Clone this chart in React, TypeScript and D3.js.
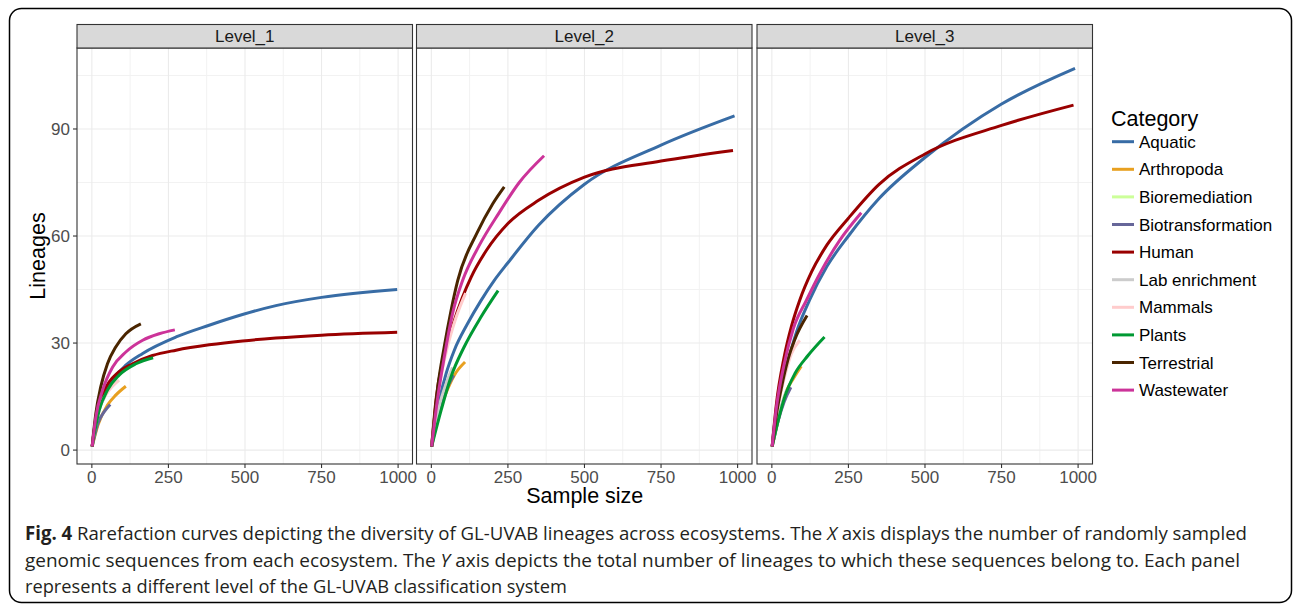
import React from 'react';
import * as d3 from 'd3';

type Pt = [number, number];

const categories = ['Aquatic', 'Arthropoda', 'Bioremediation', 'Biotransformation', 'Human', 'Lab enrichment', 'Mammals', 'Plants', 'Terrestrial', 'Wastewater'];
const colors = ['#386CA5', '#E8A020', '#CCFF99', '#666699', '#990000', '#CCCCCC', '#FFCCCC', '#009933', '#4A2500', '#CC3399'];
const levels = ['Level_1', 'Level_2', 'Level_3'];
const xTicks = [0, 250, 500, 750, 1000];
const xMinor = [125, 375, 625, 875];
const yTicks = [0, 30, 60, 90];
const yMinor = [15, 45, 75, 105];

// curves per category, same order as categories
const level1: Pt[][] = [
  [[1, 1], [13, 8.4], [35, 14], [68, 19.6], [111, 23.8], [166, 27.1], [275, 31.7], [383, 35], [492, 38], [601, 40.5], [750, 42.8], [997, 45]],
  [[1, 1], [20, 7], [51, 12.6], [78, 15.4], [111, 17.9]],
  [[1, 1], [10, 6], [22, 9.5]],
  [[1, 1], [20, 7.5], [40, 10.7], [60, 12.8]],
  [[1, 1], [15, 10], [40, 16.5], [88, 21.9], [133, 24.2], [198, 26.5], [275, 28], [383, 29.5], [492, 30.6], [601, 31.4], [750, 32.2], [997, 33]],
  [[1, 1], [20, 10], [45, 15.5]],
  [[1, 1], [20, 11], [50, 16], [89, 19.6]],
  [[1, 1], [24, 11.2], [51, 16.8], [89, 21], [144, 24.2], [200, 25.9]],
  [[1, 1], [13, 10.3], [29, 17.7], [51, 24.2], [78, 28.9], [111, 32.6], [160, 35.4]],
  [[1, 1], [13, 9.3], [35, 16.8], [68, 23.3], [111, 27.5], [166, 30.8], [220, 32.6], [271, 33.7]],
];

const level2: Pt[][] = [
  [[1, 1], [10, 7.5], [26, 14], [48, 21.4], [75, 28], [118, 35.4], [162, 41.9], [205, 47.5], [250, 52.5], [350, 63], [500, 74.5], [750, 85.5], [990, 93.7]],
  [[1, 1], [20, 9], [48, 16], [75, 21], [110, 24.7]],
  [[1, 1], [10, 6], [25, 11]],
  [[1, 1], [26, 11.2], [48, 16.8], [73, 21]],
  [[1, 1], [15, 14], [40, 26], [70, 35], [100, 42.5], [130, 48.5], [180, 56], [250, 63.5], [350, 70], [500, 76.5], [750, 81], [985, 84]],
  [[1, 1], [25, 12], [50, 19], [69, 23.2]],
  [[1, 1], [20, 15], [50, 28], [80, 37], [112, 44]],
  [[1, 1], [32, 11.2], [64, 20.5], [107, 28.9], [162, 37.3], [218, 44.7]],
  [[1, 1], [21, 17.7], [42, 28.9], [64, 39], [86, 47.5], [150, 61], [200, 69], [238, 73.8]],
  [[1, 1], [21, 14.9], [42, 26], [69, 38.2], [102, 47.5], [156, 57.3], [221, 66.5], [287, 75], [368, 82.5]],
];

const level3: Pt[][] = [
  [[1, 1], [10, 8], [25, 15], [50, 24], [80, 33], [123, 42], [180, 51.5], [250, 60], [350, 70.5], [500, 82], [750, 97], [990, 107]],
  [[1, 1], [25, 10], [50, 17], [70, 20], [96, 23.5]],
  [[1, 1], [10, 5], [20, 8]],
  [[1, 1], [20, 8], [40, 13.5], [62, 17.6]],
  [[1, 1], [15, 13], [40, 26], [65, 35], [91, 42], [130, 50], [180, 57.5], [250, 65], [350, 74.5], [500, 83], [750, 91], [985, 96.7]],
  [[1, 1], [20, 9], [48, 16.8]],
  [[1, 1], [20, 12], [40, 20], [64, 27], [91, 30.8]],
  [[1, 1], [21, 8.4], [42, 14.9], [75, 21.4], [118, 26.5], [172, 31.7]],
  [[1, 1], [15, 10], [30, 17], [53, 25.5], [75, 31], [115, 37.7]],
  [[1, 1], [15, 12], [40, 24], [70, 34], [113, 42], [160, 50], [221, 58.7], [292, 66.5]],
];

const levelData = [level1, level2, level3];

const captionLines = [
  'Rarefaction curves depicting the diversity of GL-UVAB lineages across ecosystems. The ',
  'genomic sequences from each ecosystem. The ',
  'represents a different level of the GL-UVAB classification system',
];

const panelLefts = [77, 416.5, 757];
const panelW = 335.5;
const panelTop = 48;
const panelBottom = 464;
const stripTop = 24.5;
const font = '"Liberation Sans", Arial, Helvetica, sans-serif';
const capFont = '"Liberation Sans Narrow", "Open Sans", sans-serif';

function App() {
  const y = d3.scaleLinear().domain([-3.9, 112.7]).range([panelBottom, panelTop]);

  return (
    <svg width={1293} height={605} style={{ position: 'absolute', left: 0, top: 0, display: 'block', background: '#fff' }}>
      <rect x={9.5} y={8.5} width={1282} height={594} rx={12} fill="#fff" stroke="#000" strokeWidth={1.5} />
      {levels.map((lvl, li) => {
        const x0 = panelLefts[li];
        const x = d3.scaleLinear().domain([-48.5, 1047]).range([x0, x0 + panelW]);
        const line = d3.line<Pt>().x(d => x(d[0])).y(d => y(d[1])).curve(d3.curveMonotoneX);
        return (
          <g key={lvl}>
            <rect x={x0} y={panelTop} width={panelW} height={panelBottom - panelTop} fill="#fff" />
            {xMinor.map(t => (
              <line key={'xm' + t} x1={x(t)} x2={x(t)} y1={panelTop} y2={panelBottom} stroke="#F2F2F2" strokeWidth={1} />
            ))}
            {yMinor.map(t => (
              <line key={'ym' + t} x1={x0} x2={x0 + panelW} y1={y(t)} y2={y(t)} stroke="#F2F2F2" strokeWidth={1} />
            ))}
            {xTicks.map(t => (
              <line key={'xg' + t} x1={x(t)} x2={x(t)} y1={panelTop} y2={panelBottom} stroke="#EBEBEB" strokeWidth={1.1} />
            ))}
            {yTicks.map(t => (
              <line key={'yg' + t} x1={x0} x2={x0 + panelW} y1={y(t)} y2={y(t)} stroke="#EBEBEB" strokeWidth={1.1} />
            ))}
            {levelData[li].map((pts, ci) => (
              <path key={categories[ci]} d={line(pts) || ''} fill="none" stroke={colors[ci]} strokeWidth={3} strokeLinejoin="round" />
            ))}
            <rect x={x0} y={panelTop} width={panelW} height={panelBottom - panelTop} fill="none" stroke="#333" strokeWidth={1.1} />
            <rect x={x0} y={stripTop} width={panelW} height={panelTop - stripTop} fill="#D9D9D9" stroke="#333" strokeWidth={1.1} />
            <text x={x0 + panelW / 2} y={(stripTop + panelTop) / 2} dy="0.36em" textAnchor="middle" fontFamily={font} fontSize={17} fill="#1A1A1A">{lvl}</text>
            {xTicks.map(t => (
              <g key={'xt' + t}>
                <line x1={x(t)} x2={x(t)} y1={panelBottom} y2={panelBottom + 4} stroke="#333" strokeWidth={1.1} />
                <text x={x(t)} y={482.5} textAnchor="middle" fontFamily={font} fontSize={17} fill="#4D4D4D">{t}</text>
              </g>
            ))}
          </g>
        );
      })}
      {yTicks.map(t => (
        <g key={'yt' + t}>
          <line x1={73} x2={77} y1={y(t)} y2={y(t)} stroke="#333" strokeWidth={1.1} />
          <text x={70} y={y(t)} dy="0.36em" textAnchor="end" fontFamily={font} fontSize={17} fill="#4D4D4D">{t}</text>
        </g>
      ))}
      <text transform={`translate(45,${(panelTop + panelBottom) / 2}) rotate(-90)`} textAnchor="middle" fontFamily={font} fontSize={21.5} fill="#000">Lineages</text>
      <text x={(panelLefts[0] + panelLefts[2] + panelW) / 2} y={503} textAnchor="middle" fontFamily={font} fontSize={21.5} fill="#000">Sample size</text>

      <text x={1111} y={126} fontFamily={font} fontSize={21.5} fill="#000">Category</text>
      {categories.map((c, i) => {
        const ky = 141.7 + i * 27.6;
        return (
          <g key={c}>
            <line x1={1112} x2={1134} y1={ky} y2={ky} stroke={colors[i]} strokeWidth={3} />
            <text x={1139} y={ky} dy="0.36em" fontFamily={font} fontSize={17} fill="#000">{c}</text>
          </g>
        );
      })}

      <text x={25} y={540} textLength={1222} lengthAdjust="spacingAndGlyphs" fontFamily={capFont} fontSize={19} fill="#231F20">
        <tspan fontWeight="bold">Fig. 4</tspan> {captionLines[0]}<tspan fontStyle="italic">X</tspan> axis displays the number of randomly sampled
      </text>
      <text x={25} y={567} textLength={1215} lengthAdjust="spacingAndGlyphs" fontFamily={capFont} fontSize={19} fill="#231F20">
        {captionLines[1]}<tspan fontStyle="italic">Y</tspan> axis depicts the total number of lineages to which these sequences belong to. Each panel
      </text>
      <text x={25} y={593} textLength={542} lengthAdjust="spacingAndGlyphs" fontFamily={capFont} fontSize={19} fill="#231F20">
        {captionLines[2]}
      </text>
    </svg>
  );
}

export default App;
